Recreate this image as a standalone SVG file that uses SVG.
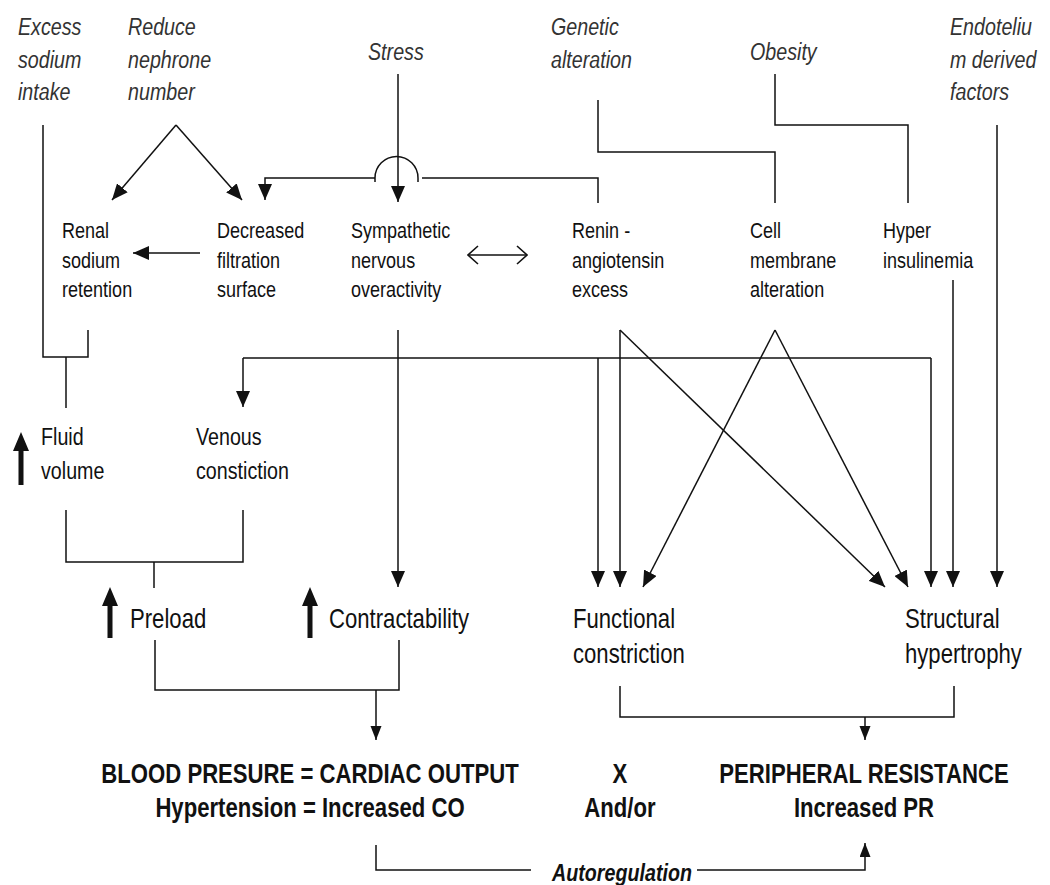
<svg xmlns="http://www.w3.org/2000/svg" width="1050" height="885" viewBox="0 0 1050 885">
<defs>
<marker id="ah" markerUnits="userSpaceOnUse" markerWidth="16" markerHeight="14" viewBox="0 0 16 14" refX="16" refY="7" orient="auto">
<path d="M0,0 L16,7 L0,14 Z" fill="#111"/>
</marker>
<marker id="ahs" markerUnits="userSpaceOnUse" markerWidth="14" markerHeight="12" viewBox="0 0 14 12" refX="14" refY="5.5" orient="auto">
<path d="M0,0 L14,5.5 L0,11 Z" fill="#111"/>
</marker>
<marker id="oa" markerUnits="userSpaceOnUse" markerWidth="12" markerHeight="20" viewBox="0 0 12 20" refX="11" refY="10" orient="auto">
<path d="M1,1 L11,10 L1,19" fill="none" stroke="#111" stroke-width="1.6"/>
</marker>
</defs>
<style>
.t{font-family:"Liberation Sans Narrow","Liberation Sans",Arial,sans-serif;fill:#111}
.i{font-style:italic;font-size:24px;fill:#333}
.m{font-size:22px}
.l{font-size:24px}
.g{font-size:27px}
.b{font-weight:bold;font-size:27px}
.c{fill:none;stroke:#111;stroke-width:1.5}
.a{marker-end:url(#ah)}
.s{marker-end:url(#ahs)}
.u{fill:#111}
</style>
<rect width="1050" height="885" fill="#fff"/>

<g id="excess"><text class="t i" transform="matrix(0.82,0,0,1,18,0)"><tspan x="0" y="35">Excess</tspan><tspan x="0" y="68">sodium</tspan><tspan x="0" y="100">intake</tspan></text></g>
<g id="reduce"><text class="t i" transform="matrix(0.82,0,0,1,128,0)"><tspan x="0" y="35">Reduce</tspan><tspan x="0" y="68">nephrone</tspan><tspan x="0" y="100">number</tspan></text></g>
<g id="stress"><text class="t i" transform="matrix(0.82,0,0,1,368,0)" x="0" y="60">Stress</text></g>
<g id="genetic"><text class="t i" transform="matrix(0.82,0,0,1,551,0)"><tspan x="0" y="35">Genetic</tspan><tspan x="0" y="68">alteration</tspan></text></g>
<g id="obesity"><text class="t i" transform="matrix(0.82,0,0,1,750,0)" x="0" y="60">Obesity</text></g>
<g id="endotelium"><text class="t i" transform="matrix(0.82,0,0,1,950,0)"><tspan x="0" y="35">Endoteliu</tspan><tspan x="0" y="68">m derived</tspan><tspan x="0" y="100">factors</tspan></text></g>

<g id="renal"><text class="t m" transform="matrix(0.82,0,0,1,62,0)"><tspan x="0" y="238">Renal</tspan><tspan x="0" y="268">sodium</tspan><tspan x="0" y="297">retention</tspan></text></g>
<g id="decreased"><text class="t m" transform="matrix(0.82,0,0,1,217,0)"><tspan x="0" y="238">Decreased</tspan><tspan x="0" y="268">filtration</tspan><tspan x="0" y="297">surface</tspan></text></g>
<g id="sympathetic"><text class="t m" transform="matrix(0.82,0,0,1,351,0)"><tspan x="0" y="238">Sympathetic</tspan><tspan x="0" y="268">nervous</tspan><tspan x="0" y="297">overactivity</tspan></text></g>
<g id="renin"><text class="t m" transform="matrix(0.82,0,0,1,572,0)"><tspan x="0" y="238">Renin -</tspan><tspan x="0" y="268">angiotensin</tspan><tspan x="0" y="297">excess</tspan></text></g>
<g id="cell"><text class="t m" transform="matrix(0.82,0,0,1,750,0)"><tspan x="0" y="238">Cell</tspan><tspan x="0" y="268">membrane</tspan><tspan x="0" y="297">alteration</tspan></text></g>
<g id="hyper"><text class="t m" transform="matrix(0.82,0,0,1,883,0)"><tspan x="0" y="238">Hyper</tspan><tspan x="0" y="268">insulinemia</tspan></text></g>

<g id="fluid"><path class="u" d="M21,432 L29,451 L23.5,451 L23.5,485 L18.5,485 L18.5,451 L13,451 Z"/><text class="t l" transform="matrix(0.82,0,0,1,41,0)"><tspan x="0" y="445">Fluid</tspan><tspan x="0" y="479">volume</tspan></text></g>
<g id="venous"><text class="t l" transform="matrix(0.82,0,0,1,196,0)"><tspan x="0" y="445">Venous</tspan><tspan x="0" y="479">constiction</tspan></text></g>

<g id="preload"><path class="u" d="M110,587 L118,606 L112.5,606 L112.5,638 L107.5,638 L107.5,606 L102,606 Z"/><text class="t g" transform="matrix(0.82,0,0,1,130,0)" x="0" y="628">Preload</text></g>
<g id="contract"><path class="u" d="M310,587 L318,606 L312.5,606 L312.5,638 L307.5,638 L307.5,606 L302,606 Z"/><text class="t g" transform="matrix(0.82,0,0,1,329,0)" x="0" y="628">Contractability</text></g>
<g id="functional"><text class="t g" transform="matrix(0.82,0,0,1,573,0)"><tspan x="0" y="628">Functional</tspan><tspan x="0" y="663">constriction</tspan></text></g>
<g id="structural"><text class="t g" transform="matrix(0.82,0,0,1,905,0)"><tspan x="0" y="628">Structural</tspan><tspan x="0" y="663">hypertrophy</tspan></text></g>

<g id="bp"><text class="t b" text-anchor="middle" transform="matrix(0.82,0,0,1,310,0)"><tspan x="0" y="783">BLOOD PRESURE = CARDIAC OUTPUT</tspan><tspan x="0" y="817">Hypertension = Increased CO</tspan></text></g>
<g id="x"><text class="t b" text-anchor="middle" transform="matrix(0.82,0,0,1,620,0)"><tspan x="0" y="783">X</tspan><tspan x="0" y="817">And/or</tspan></text></g>
<g id="pr"><text class="t b" text-anchor="middle" transform="matrix(0.82,0,0,1,864,0)"><tspan x="0" y="783">PERIPHERAL RESISTANCE</tspan><tspan x="0" y="817">Increased PR</tspan></text></g>
<g id="autoreg"><text class="t" text-anchor="middle" transform="matrix(0.82,0,0,1,622,0)" x="0" y="881" style="font-size:24px;font-weight:bold;font-style:italic">Autoregulation</text></g>

<g id="connectors">
<path class="c" d="M43,125 V357 H88 V330"/>
<path class="c" d="M66,357 V408"/>
<path class="c a" d="M176,125 L112,200"/>
<path class="c a" d="M176,125 L242,200"/>
<path class="c a" d="M398,74 V202"/>
<path class="c" d="M598,203 V178 H422"/>
<path class="c" d="M375,182 V178 A21.5,21.5 0 0 1 418,178 V182"/>
<path class="c a" d="M375,178 H265 V200"/>
<path class="c a" d="M200,253 H133"/>
<path class="c" d="M498,255 H527" marker-end="url(#oa)"/>
<path class="c" d="M498,255 H468" marker-end="url(#oa)"/>
<path class="c" d="M598,100 V152 H775 V203"/>
<path class="c" d="M775,74 V125 H908 V203"/>
<path class="c a" d="M997,125 V587"/>
<path class="c a" d="M953,280 V587"/>
<path class="c a" d="M398,330 V587"/>
<path class="c" d="M243,358 H931"/>
<path class="c a" d="M243,358 V407"/>
<path class="c a" d="M598,358 V587"/>
<path class="c a" d="M931,358 V587"/>
<path class="c a" d="M620,330 V587"/>
<path class="c a" d="M620,330 L885,587"/>
<path class="c a" d="M775,330 L643,587"/>
<path class="c a" d="M775,330 L908,587"/>
<path class="c" d="M66,510 V562 H243 V510"/>
<path class="c" d="M154,562 V588"/>
<path class="c" d="M155,640 V690 H399 V640"/>
<path class="c s" d="M376,690 V740"/>
<path class="c" d="M620,686 V717 H954 V686"/>
<path class="c s" d="M865,717 V740"/>
<path class="c" d="M376,845 V870 H531"/>
<path class="c s" d="M697,870 H865 V843"/>
</g>
</svg>
